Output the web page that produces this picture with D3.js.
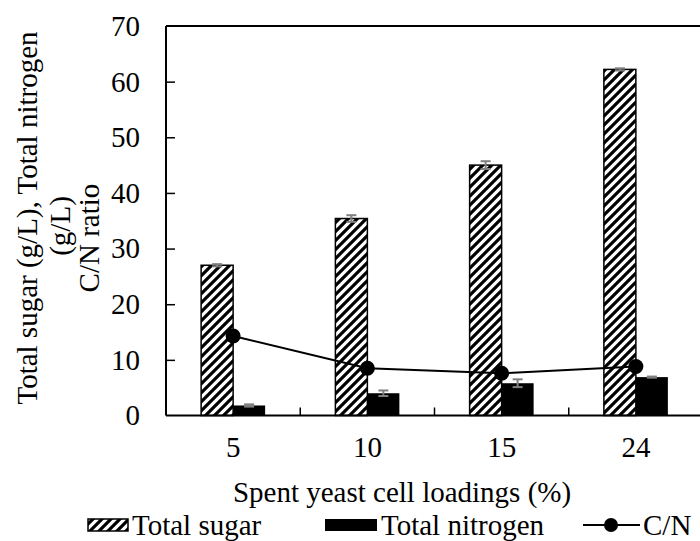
<!DOCTYPE html>
<html>
<head>
<meta charset="utf-8">
<script src="https://cdn.jsdelivr.net/npm/d3@7"></script>
<style>
  body { margin: 0; background: #fff; }
  svg text { font-family: "Liberation Serif", "Times New Roman", serif; fill: #000; }
</style>
</head>
<body>
<div id="chart"></div>
<script>
var categories = ["5", "10", "15", "24"];
var sugar = [27.0, 35.4, 45.0, 62.2];
var sugarErr = [0.2, 0.6, 0.7, 0.2];
var nitrogen = [1.8, 4.0, 5.8, 6.9];
var nitrogenErr = [0.2, 0.5, 0.7, 0.1];
var cnRatio = [14.3, 8.5, 7.6, 8.8];
var yTicks = [0, 10, 20, 30, 40, 50, 60, 70];

var width = 700, height = 541;
var plotLeft = 166, plotTop = 26, plotBottom = 415.5, plotRight = 703;
var fontSize = 29;

var svg = d3.select("#chart").append("svg")
  .attr("width", width)
  .attr("height", height);

// hatch for total sugar
var defs = svg.append("defs");
defs.append("pattern")
  .attr("id", "hatch")
  .attr("patternUnits", "userSpaceOnUse")
  .attr("width", 9)
  .attr("height", 9)
  .call(function(p) {
    p.append("rect").attr("width", 9).attr("height", 9).attr("fill", "#fff");
    p.append("path")
      .attr("d", "M-3,3 L3,-3 M0,9 L9,0 M6,12 L12,6")
      .attr("stroke", "#000")
      .attr("stroke-width", 3.2);
  });

var x = d3.scaleBand().domain(categories).range([plotLeft, plotRight]).padding(0);
var barW = 32;
var y = d3.scaleLinear().domain([0, 70]).range([plotBottom, plotTop]);

var rows = categories.map(function(c, i) {
  return { cat: c, sugar: sugar[i], sErr: sugarErr[i], nitrogen: nitrogen[i], nErr: nitrogenErr[i], cn: cnRatio[i] };
});

function center(d) { return x(d.cat) + x.bandwidth() / 2; }

// top border of plot area
svg.append("line")
  .attr("x1", plotLeft).attr("x2", width)
  .attr("y1", plotTop).attr("y2", plotTop)
  .attr("stroke", "#000").attr("stroke-width", 2);

// sugar bars
svg.append("g").selectAll("rect")
  .data(rows).enter().append("rect")
  .attr("x", function(d) { return center(d) - barW; })
  .attr("y", function(d) { return y(d.sugar); })
  .attr("width", barW)
  .attr("height", function(d) { return plotBottom - y(d.sugar); })
  .attr("fill", "url(#hatch)")
  .attr("stroke", "#000")
  .attr("stroke-width", 1.5);

// nitrogen bars
svg.append("g").selectAll("rect")
  .data(rows).enter().append("rect")
  .attr("x", function(d) { return center(d); })
  .attr("y", function(d) { return y(d.nitrogen); })
  .attr("width", barW)
  .attr("height", function(d) { return plotBottom - y(d.nitrogen); })
  .attr("fill", "#000");

// error bars
function errorBars(getX, getV, getE) {
  var g = svg.append("g").attr("stroke", "#7f7f7f").attr("stroke-width", 2);
  rows.forEach(function(d) {
    var cx = getX(d), v = getV(d), e = getE(d);
    g.append("line").attr("x1", cx).attr("x2", cx).attr("y1", y(v - e)).attr("y2", y(v + e));
    g.append("line").attr("x1", cx - 5).attr("x2", cx + 5).attr("y1", y(v - e)).attr("y2", y(v - e));
    g.append("line").attr("x1", cx - 5).attr("x2", cx + 5).attr("y1", y(v + e)).attr("y2", y(v + e));
  });
}
errorBars(function(d) { return center(d) - barW / 2; }, function(d) { return d.sugar; }, function(d) { return d.sErr; });
errorBars(function(d) { return center(d) + barW / 2; }, function(d) { return d.nitrogen; }, function(d) { return d.nErr; });

// C/N line
var line = d3.line()
  .x(function(d) { return center(d); })
  .y(function(d) { return y(d.cn); });

svg.append("path")
  .datum(rows)
  .attr("d", line)
  .attr("fill", "none")
  .attr("stroke", "#000")
  .attr("stroke-width", 2);

svg.append("g").selectAll("circle")
  .data(rows).enter().append("circle")
  .attr("cx", center)
  .attr("cy", function(d) { return y(d.cn); })
  .attr("r", 7.5)
  .attr("fill", "#000");

// y axis, ticks pointing inward
var yAxis = svg.append("g")
  .attr("transform", "translate(" + plotLeft + ",0)")
  .call(d3.axisRight(y).tickValues(yTicks).tickSize(9).tickFormat(""));
yAxis.select(".domain").attr("stroke-width", 2).attr("d", "M0," + plotBottom + "V" + plotTop);
yAxis.selectAll(".tick line").attr("stroke-width", 1.5);
yAxis.selectAll(".tick").filter(function(d) { return d === 0 || d === 70; }).select("line").remove();

svg.append("g").selectAll("text")
  .data(yTicks).enter().append("text")
  .attr("x", 140)
  .attr("y", function(d) { return y(d); })
  .attr("dy", "0.34em")
  .attr("text-anchor", "end")
  .style("font-size", fontSize + "px")
  .text(function(d) { return d; });

// x axis, ticks at category boundaries pointing up
svg.append("line")
  .attr("x1", plotLeft).attr("x2", width)
  .attr("y1", plotBottom).attr("y2", plotBottom)
  .attr("stroke", "#000").attr("stroke-width", 2);

svg.append("g").selectAll("line")
  .data(categories.slice(1)).enter().append("line")
  .attr("x1", function(d) { return x(d); })
  .attr("x2", function(d) { return x(d); })
  .attr("y1", plotBottom).attr("y2", plotBottom - 8)
  .attr("stroke", "#000").attr("stroke-width", 1.5);

svg.append("g").selectAll("text")
  .data(categories).enter().append("text")
  .attr("x", function(d) { return x(d) + x.bandwidth() / 2; })
  .attr("y", 457)
  .attr("text-anchor", "middle")
  .style("font-size", fontSize + "px")
  .text(function(d) { return d; });

svg.append("text")
  .attr("x", 402)
  .attr("y", 502)
  .attr("text-anchor", "middle")
  .style("font-size", fontSize + "px")
  .text("Spent yeast cell loadings (%)");

// y axis title, three lines
var yTitle = ["Total sugar (g/L), Total nitrogen", "(g/L)", "C/N ratio"];
var yTitleShift = [0, -8, -20];
var yTitleBase = [37, 70, 99];
svg.append("g")
  .attr("transform", "translate(0,218) rotate(-90)")
  .selectAll("text")
  .data(yTitle).enter().append("text")
  .attr("x", function(d, i) { return yTitleShift[i]; })
  .attr("y", function(d, i) { return yTitleBase[i]; })
  .attr("text-anchor", "middle")
  .style("font-size", fontSize + "px")
  .text(function(d) { return d; });

// legend
var legY = 525;
var leg = svg.append("g");
leg.append("rect")
  .attr("x", 88).attr("y", legY - 6).attr("width", 40).attr("height", 12)
  .attr("fill", "url(#hatch)").attr("stroke", "#000").attr("stroke-width", 1.5);
leg.append("text")
  .attr("x", 132).attr("y", legY + 10)
  .style("font-size", fontSize + "px")
  .text("Total sugar");

leg.append("rect")
  .attr("x", 325).attr("y", legY - 6).attr("width", 52).attr("height", 12)
  .attr("fill", "#000");
leg.append("text")
  .attr("x", 381).attr("y", legY + 10)
  .style("font-size", fontSize + "px")
  .text("Total nitrogen");

leg.append("line")
  .attr("x1", 583).attr("x2", 640).attr("y1", legY).attr("y2", legY)
  .attr("stroke", "#000").attr("stroke-width", 2);
leg.append("circle")
  .attr("cx", 611).attr("cy", legY).attr("r", 7)
  .attr("fill", "#000");
leg.append("text")
  .attr("x", 643).attr("y", legY + 10)
  .style("font-size", fontSize + "px")
  .text("C/N");
</script>
</body>
</html>
